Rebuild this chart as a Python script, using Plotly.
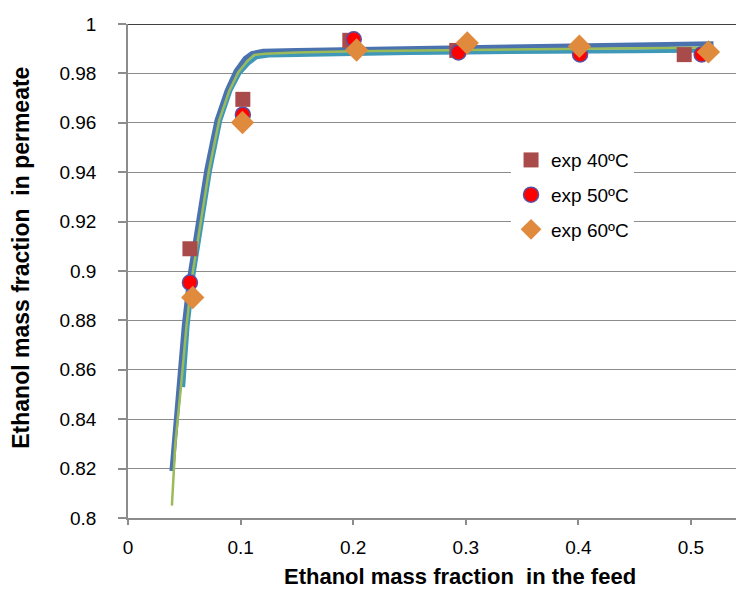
import plotly.graph_objects as go

# ---- data ----
exp40_x = [0.055, 0.102, 0.197, 0.292, 0.494]
exp40_y = [0.909, 0.9695, 0.9934, 0.9893, 0.9876]

exp50_x = [0.055, 0.102, 0.2005, 0.2935, 0.4015, 0.5095]
exp50_y = [0.8953, 0.9633, 0.9938, 0.9885, 0.9877, 0.9877]

exp60_x = [0.0575, 0.1017, 0.203, 0.3013, 0.4009, 0.5155]
exp60_y = [0.8893, 0.9601, 0.9895, 0.9923, 0.9910, 0.9887]

model_blue_x = [0.039, 0.045, 0.050, 0.055, 0.062, 0.070, 0.079, 0.088, 0.096, 0.104,
                0.110, 0.120, 0.15, 0.20, 0.25, 0.30, 0.35, 0.40, 0.45, 0.50, 0.52]
model_blue_y = [0.819, 0.853, 0.878, 0.898, 0.918, 0.941, 0.961, 0.973, 0.981, 0.986,
                0.988, 0.989, 0.9893, 0.9897, 0.9900, 0.9905, 0.9910, 0.9915, 0.9917, 0.9920, 0.9920]

model_teal_x = [0.049, 0.053, 0.058, 0.065, 0.073, 0.082, 0.091, 0.099, 0.107, 0.114,
                0.125, 0.15, 0.20, 0.25, 0.30, 0.35, 0.40, 0.45, 0.50, 0.52]
model_teal_y = [0.853, 0.878, 0.898, 0.918, 0.941, 0.961, 0.973, 0.980, 0.984, 0.9865,
                0.9872, 0.9875, 0.9880, 0.9883, 0.9885, 0.9888, 0.9890, 0.9890, 0.9892, 0.9892]

model_green_x = [0.039, 0.042, 0.047, 0.052, 0.057, 0.064, 0.072, 0.081, 0.090, 0.098,
                 0.106, 0.112, 0.122, 0.15, 0.20, 0.30, 0.40, 0.50, 0.52]
model_green_y = [0.805, 0.830, 0.853, 0.878, 0.898, 0.918, 0.941, 0.961, 0.973, 0.9805,
                 0.985, 0.9875, 0.9880, 0.9885, 0.9890, 0.9895, 0.9900, 0.9905, 0.9905]

x_title = "Ethanol mass fraction  in the feed"
y_title = "Ethanol mass fraction  in permeate"

FONT = "Liberation Sans, Arial, sans-serif"

fig = go.Figure()

fig.add_trace(go.Scatter(x=model_blue_x, y=model_blue_y, mode="lines",
                         line=dict(color="#4A72AE", width=5), showlegend=False,
                         hoverinfo="skip"))
fig.add_trace(go.Scatter(x=model_teal_x, y=model_teal_y, mode="lines",
                         line=dict(color="#3F98B8", width=4), showlegend=False,
                         hoverinfo="skip"))
fig.add_trace(go.Scatter(x=model_green_x, y=model_green_y, mode="lines",
                         line=dict(color="#9BBB59", width=2.5), showlegend=False,
                         hoverinfo="skip"))

fig.add_trace(go.Scatter(x=exp40_x, y=exp40_y, mode="markers", name="exp 40ºC",
                         legendgroup="a",
                         marker=dict(symbol="square", size=15, color="#A84B4A",
                                     line=dict(width=0))))
fig.add_trace(go.Scatter(x=exp50_x, y=exp50_y, mode="markers", name="exp 50ºC",
                         legendgroup="b",
                         marker=dict(symbol="circle", size=15, color="#FF0000",
                                     line=dict(width=1.5, color="#5B4FA0"))))
fig.add_trace(go.Scatter(x=exp60_x, y=exp60_y, mode="markers", name="exp 60ºC",
                         legendgroup="c",
                         marker=dict(symbol="diamond", size=18, color="#E08A3E",
                                     line=dict(width=0))))

fig.update_layout(
    width=737, height=596,
    margin=dict(l=128, r=1, t=24, b=78),
    paper_bgcolor="white", plot_bgcolor="white",
    font=dict(family=FONT, color="black", size=19),
    legend=dict(x=0.63, y=0.763, xanchor="left", yanchor="top",
                bgcolor="white", borderwidth=0, tracegroupgap=7,
                font=dict(family=FONT, size=19, color="black")),
    xaxis=dict(range=[0, 0.54], tick0=0, dtick=0.1, showgrid=False,
               showline=True, linecolor="#8C8C8C", linewidth=1.5,
               ticks="outside", ticklen=5, tickcolor="#8C8C8C", tickwidth=1.5,
               tickfont=dict(size=19, family=FONT, color="black"),
               ticklabelstandoff=6, zeroline=False),
    yaxis=dict(range=[0.8, 1.0], tick0=0.8, dtick=0.02, showgrid=True,
               gridcolor="#8C8C8C", gridwidth=1.3,
               showline=True, linecolor="#8C8C8C", linewidth=1.5,
               ticks="outside", ticklen=8, tickcolor="#8C8C8C", tickwidth=1.5,
               tickfont=dict(size=19, family=FONT, color="black"),
               ticklabelstandoff=18, zeroline=False),
    shapes=[dict(type="line", xref="paper", yref="y", x0=0, x1=1, y0=1.0, y1=1.0,
                 line=dict(color="black", width=1.5))],
    annotations=[
        dict(text=x_title, xref="paper", yref="paper", x=0.546, y=-0.119,
             xanchor="center", yanchor="middle", showarrow=False,
             font=dict(family=FONT, size=22, color="black", weight="bold")),
        dict(text=y_title, xref="paper", yref="paper", x=-0.175, y=0.526,
             xanchor="center", yanchor="middle", showarrow=False, textangle=-90,
             font=dict(family=FONT, size=23, color="black", weight="bold")),
    ],
)

fig.write_html("out.html", config={"displayModeBar": False},
               post_script="document.body.style.margin='0px';document.body.style.overflow='hidden';")
